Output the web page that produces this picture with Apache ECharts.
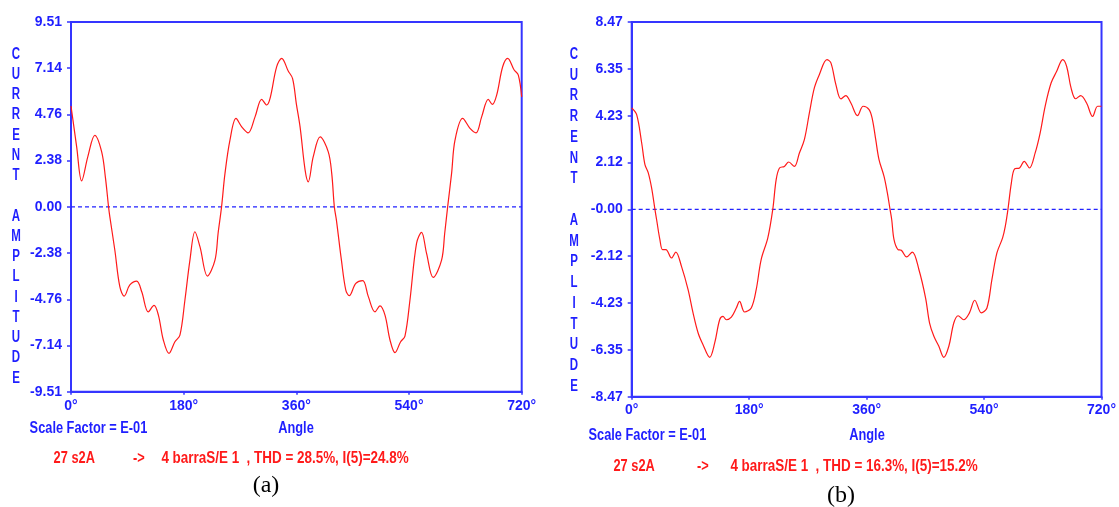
<!DOCTYPE html>
<html>
<head>
<meta charset="utf-8">
<script src="https://cdn.jsdelivr.net/npm/echarts@6/dist/echarts.min.js"></script>
<style>
html,body{margin:0;padding:0;background:#fff;}
#chart{width:1119px;height:507px;}
</style>
</head>
<body>
<div id="chart"></div>
<script>
// ---------- data ----------
const xTickLabels = ['0°', '180°', '360°', '540°', '720°'];
const yTickLabelsA = ['-9.51', '-7.14', '-4.76', '-2.38', '0.00', '2.38', '4.76', '7.14', '9.51'];
const yTickLabelsB = ['-8.47', '-6.35', '-4.23', '-2.12', '-0.00', '2.12', '4.23', '6.35', '8.47'];

const anglesA = [0, 9, 17, 27, 38, 49, 55, 60, 62, 70, 78, 85, 94, 105, 113, 123.5, 132.6, 139.6, 147.5, 156.5, 166, 174, 182, 190, 198, 206, 218, 230, 235, 240.5, 246, 254, 263.6, 272.7, 283, 294, 304.6, 312.6, 318, 328.6, 336.6, 347, 354, 360, 366, 374, 379, 387, 398, 411, 416.5, 420.7, 424, 432, 439, 444.6, 455, 466, 475, 485.6, 493.6, 501.6, 509.6, 517.6, 526.6, 533.5, 541.5, 552, 560, 568, 578.6, 592, 597, 601.7, 608, 613.5, 625.7, 637.4, 647, 656, 666.6, 673, 680, 689.6, 697.6, 708, 714.6, 720];
const currentA = [5.19, 3.1, 1.34, 2.6, 3.68, 2.83, 1.5, 0, -0.5, -2.22, -4.11, -4.59, -4.02, -3.82, -4.37, -5.4, -5.07, -5.57, -6.85, -7.54, -6.94, -6.6, -4.79, -2.74, -1.28, -2.05, -3.56, -2.74, -1.36, 0, 1.72, 3.44, 4.55, 4.12, 3.81, 4.63, 5.53, 5.24, 5.58, 7.21, 7.64, 6.99, 6.6, 5.3, 4.1, 1.89, 1.29, 2.58, 3.6, 2.83, 1.72, 0, -0.68, -2.74, -4.28, -4.57, -3.94, -3.8, -4.62, -5.4, -5.09, -5.57, -6.85, -7.5, -6.94, -6.65, -4.79, -1.88, -1.31, -2.39, -3.63, -2.74, -1.36, 0, 1.72, 3.44, 4.55, 4.04, 3.81, 4.63, 5.53, 5.27, 5.75, 7.21, 7.64, 7.04, 6.78, 5.66];

const anglesB = [0, 7.6, 15.3, 20.3, 25.4, 30.5, 35.6, 38.2, 43.2, 47.3, 52.4, 61, 67.6, 76.3, 86.4, 94, 101.8, 109.3, 119.5, 127.2, 134.8, 139.9, 145, 152.7, 160.3, 165.3, 173, 183.2, 190.8, 198.4, 208.6, 216.2, 221.4, 226.5, 234, 240.6, 249.3, 257, 264.6, 272.3, 279.9, 287.5, 299.2, 305.3, 312.9, 320.6, 328, 335.9, 346, 354.7, 363.8, 368.9, 374, 379, 386.7, 391.8, 395.9, 398.5, 402, 408.1, 413.2, 421.4, 430, 440.2, 450.4, 456.5, 463.1, 470.7, 478.3, 486, 493.6, 500.2, 508.9, 517.6, 525.7, 535.9, 544.4, 552, 559.7, 568.4, 572.5, 576.6, 581.8, 586.8, 594.4, 601.5, 609.6, 618.3, 625.9, 633.6, 642.7, 651.3, 660.5, 666.6, 673.3, 680.3, 688, 697.1, 706.3, 714, 720];
const currentB = [4.58, 4.28, 3.0, 2.02, 1.65, 0.97, 0, -0.47, -1.37, -1.82, -1.82, -2.2, -1.93, -2.58, -3.63, -4.68, -5.59, -6.12, -6.69, -6.04, -4.99, -4.84, -4.99, -4.87, -4.46, -4.16, -4.64, -4.46, -3.63, -2.27, -1.29, 0, 1.34, 1.87, 1.94, 2.14, 1.94, 2.55, 3.15, 4.36, 5.49, 6.09, 6.77, 6.62, 5.64, 4.99, 5.14, 4.81, 4.24, 4.66, 4.51, 4.06, 3.15, 2.25, 1.49, 0.74, 0, -0.47, -1.37, -1.82, -1.85, -2.15, -1.93, -2.73, -4.01, -5.14, -5.74, -6.19, -6.69, -6.19, -5.14, -4.81, -4.99, -4.68, -4.11, -4.68, -4.46, -3.18, -1.97, -1.29, -0.77, 0, 1.19, 1.83, 1.87, 2.17, 1.87, 2.55, 3.45, 4.66, 5.71, 6.24, 6.77, 6.46, 5.49, 5.0, 5.14, 4.81, 4.2, 4.66, 4.66];

const zeroLine = [[0, 0], [720, 0]];
const scaleA = 9.51, scaleB = 8.47;
const footerA = ['27 s2A', '->', '4 barraS/E 1  , THD = 28.5%, I(5)=24.8%'];
const footerB = ['27 s2A', '->', '4 barraS/E 1  , THD = 16.3%, I(5)=15.2%'];

// ---------- styles ----------
const BLUE = '#1f1fff';
const AXIS = '#3535ff';
const RED = '#ff1a1a';
const SANS = '"Liberation Sans",Arial,sans-serif';
const TFONT = 'bold 16px ' + SANS;
const NARROWX = 0.8;

function zip(a, b) { return a.map((x, i) => [x, b[i]]); }

function xAxis(gi) {
  return {
    type: 'value', gridIndex: gi, min: 0, max: 720, interval: 180,
    axisLine: { show: true, onZero: false, lineStyle: { color: AXIS, width: 2 } },
    axisTick: { show: true, length: 3, lineStyle: { color: AXIS, width: 1.5 } },
    splitLine: { show: false },
    axisLabel: {
      margin: gi === 0 ? 7 : 6, color: BLUE, fontFamily: SANS, fontWeight: 'bold', fontSize: 14,
      formatter: v => xTickLabels[Math.round(v / 180)]
    }
  };
}
function yAxis(gi, m, labels) {
  const iv = m / 4;
  return {
    type: 'value', gridIndex: gi, min: -m, max: m, interval: iv,
    axisLine: { show: true, onZero: false, lineStyle: { color: AXIS, width: 2 } },
    axisTick: { show: true, length: 4, lineStyle: { color: AXIS, width: 1.5 } },
    splitLine: { show: false },
    axisLabel: {
      margin: 9, color: BLUE, fontFamily: SANS, fontWeight: 'bold', fontSize: 14,
      showMinLabel: true, showMaxLabel: true,
      formatter: v => labels[Math.round((v + m) / iv)]
    }
  };
}
function waveSeries(gi, ang, val) {
  return {
    type: 'line', xAxisIndex: gi, yAxisIndex: gi,
    data: zip(ang, val), showSymbol: false, smooth: 0.35,
    lineStyle: { color: RED, width: 1.2 },
    z: 3
  };
}
function zeroSeries(gi) {
  return {
    type: 'line', xAxisIndex: gi, yAxisIndex: gi, silent: true,
    data: zeroLine, showSymbol: false,
    lineStyle: { color: '#2222ff', type: [4, 3], width: 1.2 },
    z: 2
  };
}
function txt(x, y, text, opt) {
  opt = opt || {};
  return {
    type: 'text', x: x, y: y, silent: true,
    scaleX: opt.sx || NARROWX, scaleY: 1,
    style: Object.assign({
      text: text, fill: opt.fill || BLUE,
      font: opt.font || TFONT,
      textAlign: opt.align || 'left', align: opt.align || 'left',
      textVerticalAlign: opt.va || 'middle', verticalAlign: opt.va || 'middle'
    }, opt.extra || {})
  };
}

const vertical = 'C\nU\nR\nR\nE\nN\nT\n\nA\nM\nP\nL\nI\nT\nU\nD\nE';

const option = {
  animation: false,
  backgroundColor: '#ffffff',
  grid: [
    { left: 71, top: 22, width: 450.7, height: 369.7, show: true, borderColor: AXIS, borderWidth: 2, backgroundColor: 'transparent' },
    { left: 631.7, top: 22, width: 471.6, height: 374.7, show: true, borderColor: AXIS, borderWidth: 2, backgroundColor: 'transparent' }
  ],
  xAxis: [xAxis(0), xAxis(1)],
  yAxis: [yAxis(0, scaleA, yTickLabelsA), yAxis(1, scaleB, yTickLabelsB)],
  series: [zeroSeries(0), zeroSeries(1), waveSeries(0, anglesA, currentA), waveSeries(1, anglesB, currentB)],
  graphic: [
    txt(16, 44, vertical, { align: 'center', va: 'top', sx: 0.72, extra: { lineHeight: 20.25 } }),
    txt(574, 44, vertical, { align: 'center', va: 'top', sx: 0.72, extra: { lineHeight: 20.75 } }),
    txt(29.6, 429, 'Scale Factor = E-01'),
    txt(296, 429, 'Angle', { align: 'center' }),
    txt(588.5, 436, 'Scale Factor = E-01'),
    txt(867, 436, 'Angle', { align: 'center' }),
    txt(53.6, 459, footerA[0], { fill: RED }),
    txt(133, 459, footerA[1], { fill: RED }),
    txt(161.4, 459, footerA[2], { fill: RED, sx: 0.84 }),
    txt(613.5, 467, footerB[0], { fill: RED }),
    txt(697, 467, footerB[1], { fill: RED }),
    txt(730.4, 467, footerB[2], { fill: RED, sx: 0.84 }),
    txt(266, 486, '(a)', { fill: '#000', align: 'center', sx: 1, font: '24px "Liberation Serif","Times New Roman",serif' }),
    txt(841, 496, '(b)', { fill: '#000', align: 'center', sx: 1, font: '24px "Liberation Serif","Times New Roman",serif' })
  ]
};

const chart = echarts.init(document.getElementById('chart'), null, { renderer: 'canvas' });
chart.setOption(option);
</script>
</body>
</html>
